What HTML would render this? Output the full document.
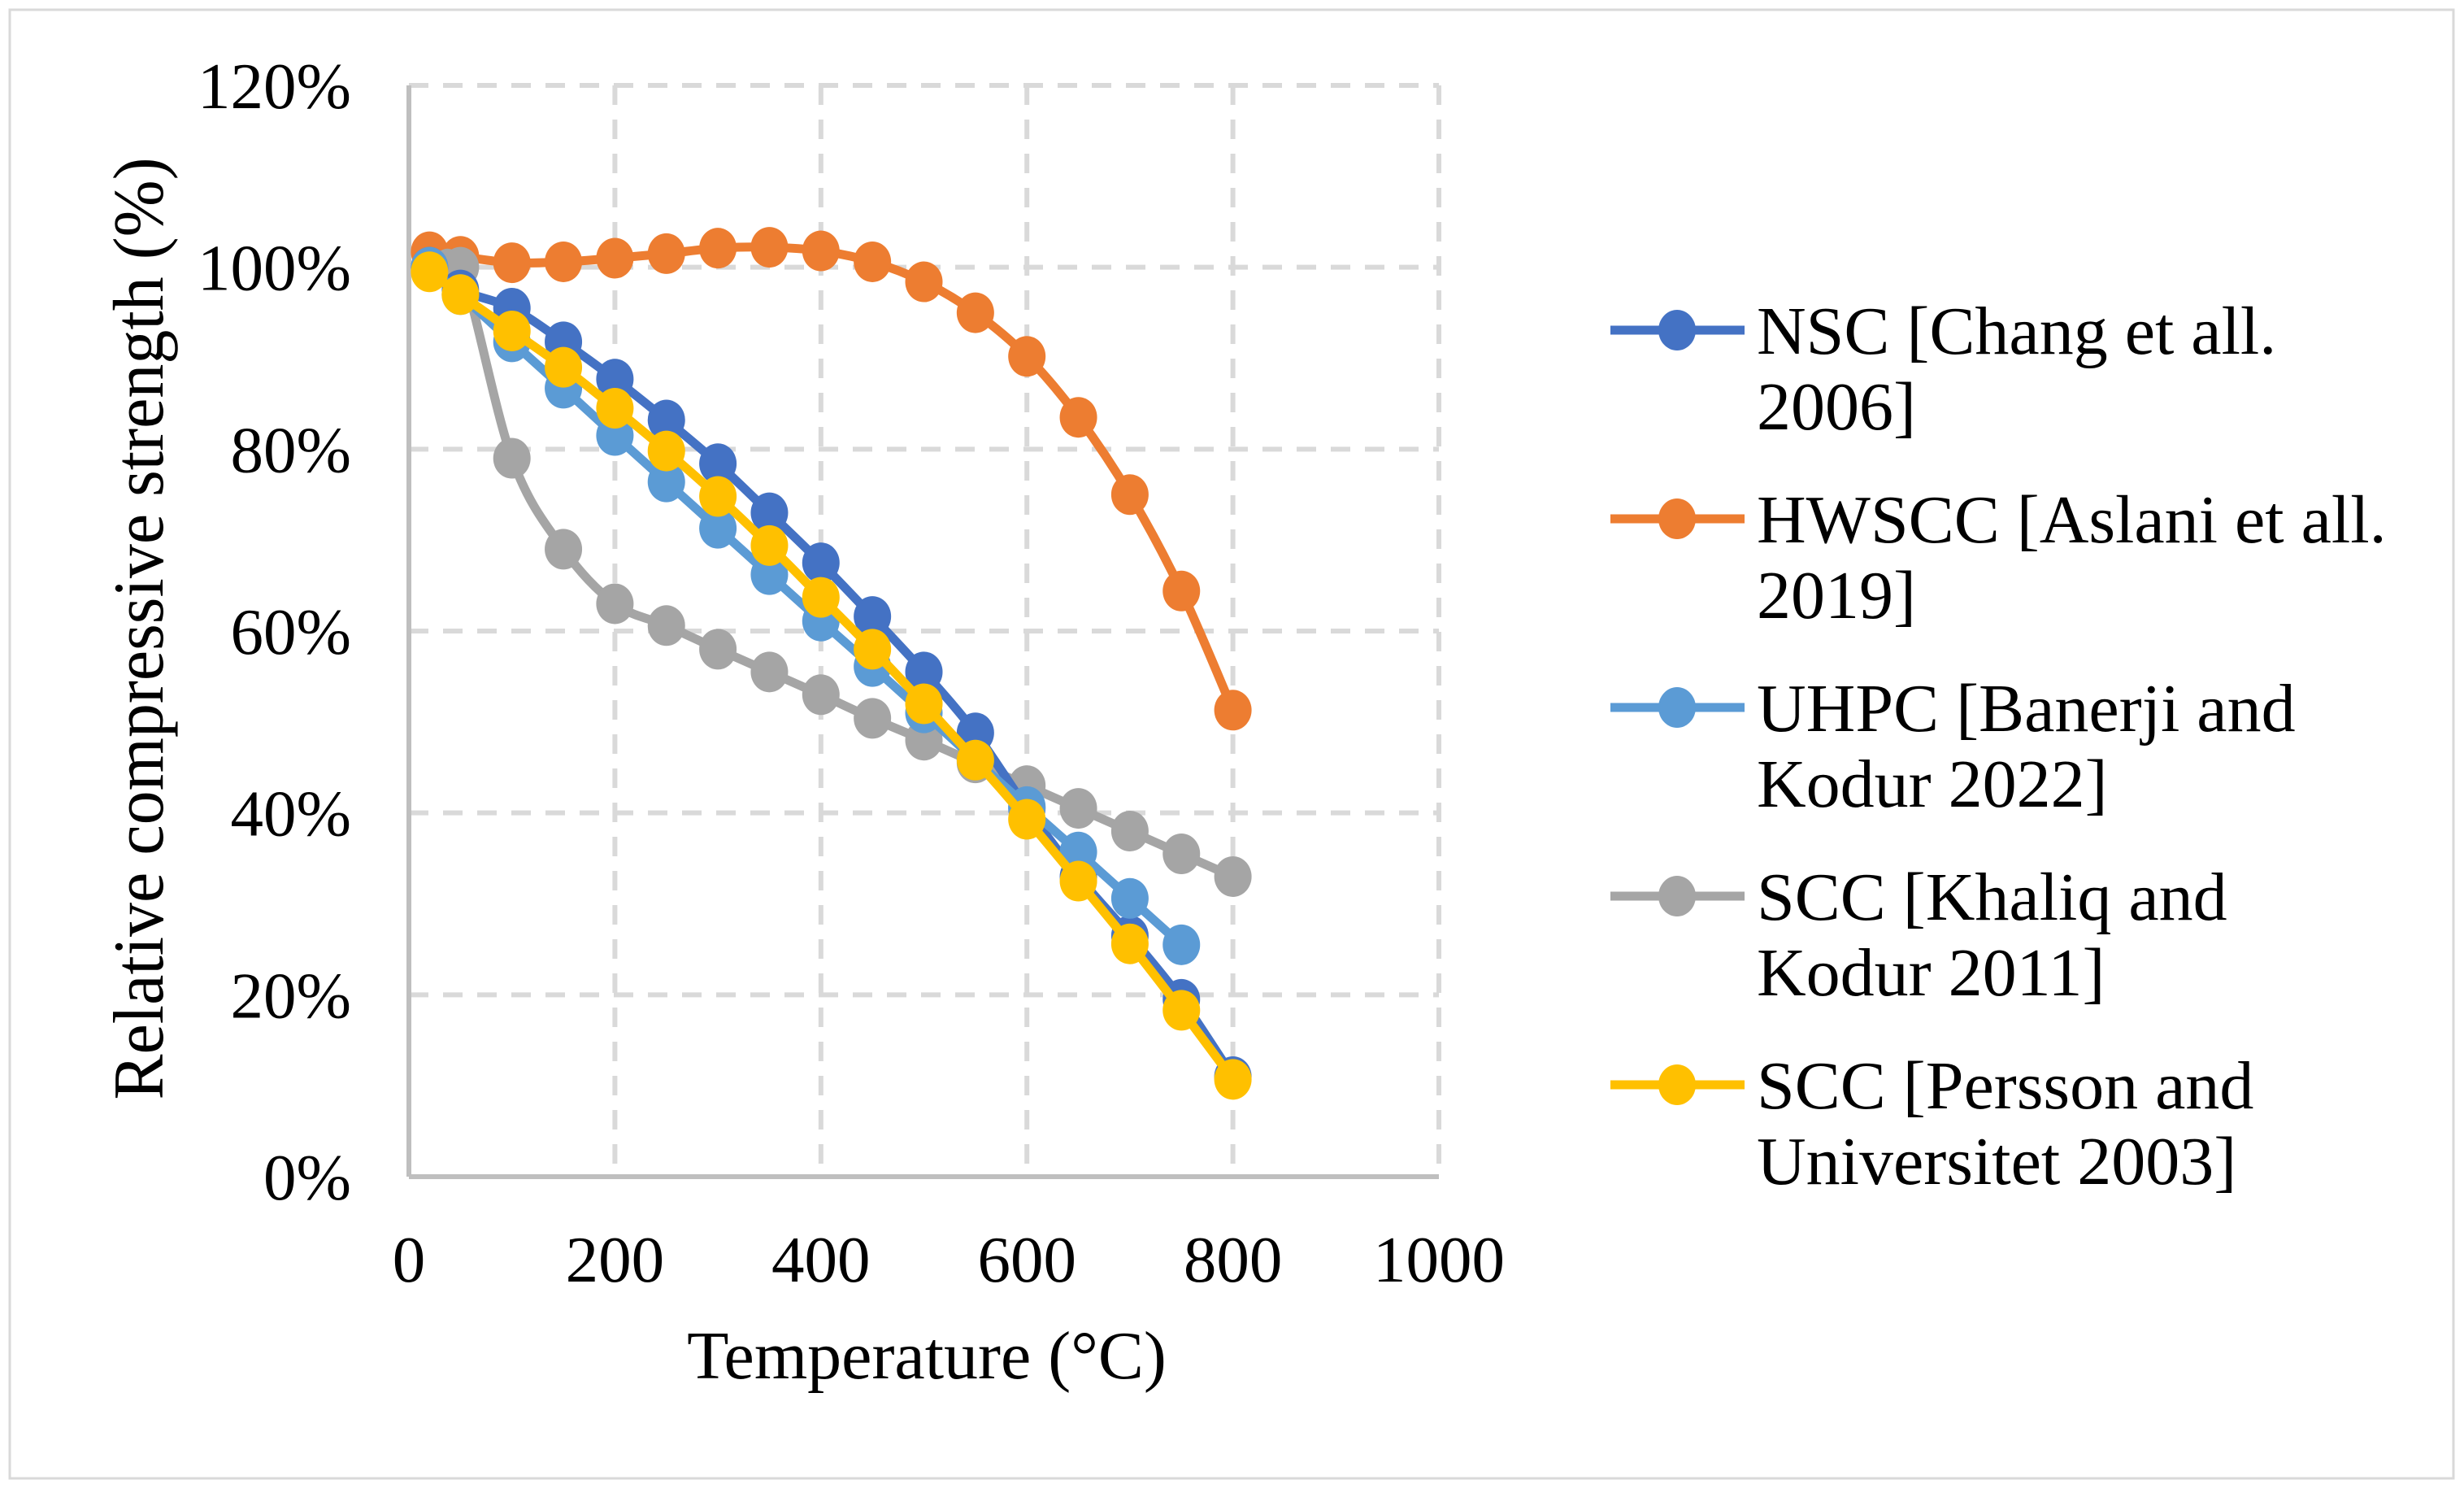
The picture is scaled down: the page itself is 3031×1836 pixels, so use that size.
<!DOCTYPE html>
<html><head><meta charset="utf-8"><style>
html,body{margin:0;padding:0;background:#fff}
svg{display:block}
text{font-family:"Liberation Serif",serif;fill:#000}
</style></head><body>
<svg id="chart" width="3031" height="1836" viewBox="0 0 3031 1836" xmlns="http://www.w3.org/2000/svg">
<rect x="12" y="12" width="3006" height="1806" fill="#fff" stroke="#d9d9d9" stroke-width="3"/>
<g id="grid"></g>
<g id="axes"></g>
<g id="series"></g>
<g id="legend"></g>
<text transform="translate(200,773) rotate(-90) scale(1,1.05)" text-anchor="middle" font-size="84">Relative compressive strength (%)</text>
<text x="1140" y="1695" text-anchor="middle" font-size="84">Temperature (°C)</text>
</svg>
<script>
const temps = [20,50,100,150,200,250,300,350,400,450,500,550,600,650,700,750,800];
const nscValues = [100,97.5,95.5,91.8,87.7,83.2,78.4,73,67.5,61.6,55.5,48.8,40.5,33,26.5,19.5,11];
const hwsccValues = [101.7,101.2,100.5,100.6,101,101.5,102.1,102.2,101.8,100.6,98.4,95,90.2,83.5,75,64.4,51.3];
const uhpcValues = [100,97,91.8,86.7,81.5,76.4,71.3,66.2,61.1,56.1,51,45.8,40.7,35.7,30.6,25.5];
const khaliqValues = [100,100,79,69,63,60.6,58,55.5,53,50.4,48,45.5,43,40.5,38,35.5,33];
const perssonValues = [99.5,97,93,89,84.5,79.8,74.8,69.4,63.7,58,52,45.8,39.3,32.5,25.6,18.3,10.7];
const xTicks = [0,200,400,600,800,1000];
const yTicks = [0,20,40,60,80,100,120];
const seriesNames = ["NSC [Chang et all.|2006]","HWSCC [Aslani et all.|2019]","UHPC [Banerji and|Kodur 2022]","SCC [Khaliq and|Kodur 2011]","SCC [Persson and|Universitet 2003]"];
const seriesColors = ["#4472c4","#ed7d31","#5b9bd5","#a5a5a5","#ffc000"];
const seriesData = [nscValues,hwsccValues,uhpcValues,khaliqValues,perssonValues];
const drawOrder = [1,3,0,2,4];

const NS="http://www.w3.org/2000/svg";
const X0=503,X1=1770,Y0=1447,Y1=105;
const xs=v=>X0+(v/1000)*(X1-X0);
const ys=v=>Y0-(v/120)*(Y0-Y1);
function mk(tag,attrs,parent){const e=document.createElementNS(NS,tag);for(const k in attrs)e.setAttribute(k,attrs[k]);parent.appendChild(e);return e;}
const grid=document.getElementById('grid'),axes=document.getElementById('axes'),ser=document.getElementById('series'),leg=document.getElementById('legend');

yTicks.forEach(t=>{
  if(t>0){const l=mk('line',{x1:X0,x2:X1,y1:ys(t),y2:ys(t),stroke:'#d9d9d9','stroke-width':6,'stroke-dasharray':'24,18'},grid);
  
  }
  const tx=mk('text',{x:432,y:ys(t)+28,'text-anchor':'end','font-size':81},axes);
  tx.textContent=t+'%';
  
  
});
xTicks.forEach(t=>{
  if(t>0){const l=mk('line',{x1:xs(t),x2:xs(t),y1:Y1,y2:Y0,stroke:'#d9d9d9','stroke-width':6,'stroke-dasharray':'24,18'},grid);
  
  }
  const tx=mk('text',{x:xs(t),y:1576,'text-anchor':'middle','font-size':81},axes);
  tx.textContent=t;
  
  
});
const ya=mk('line',{x1:X0,x2:X0,y1:Y1,y2:Y0,stroke:'#bfbfbf','stroke-width':6},axes);


const xa=mk('line',{x1:X0,x2:X1,y1:Y0,y2:Y0,stroke:'#bfbfbf','stroke-width':6},axes);



function smooth(pts){
  let d=`M${pts[0][0]},${pts[0][1]}`;
  for(let i=0;i<pts.length-1;i++){
    const p0=pts[i-1]||pts[i],p1=pts[i],p2=pts[i+1],p3=pts[i+2]||p2;
    const c1=[p1[0]+(p2[0]-p0[0])/6,p1[1]+(p2[1]-p0[1])/6];
    const c2=[p2[0]-(p3[0]-p1[0])/6,p2[1]-(p3[1]-p1[1])/6];
    d+=` C${c1[0]},${c1[1]} ${c2[0]},${c2[1]} ${p2[0]},${p2[1]}`;
  }
  return d;
}
drawOrder.forEach(si=>{
  const vals=seriesData[si];
  const g=mk('g',{},ser);
  
  
  const pts=vals.map((v,i)=>[xs(temps[i]),ys(v)]);
  const p=mk('path',{d:smooth(pts),fill:'none',stroke:seriesColors[si],'stroke-width':11,'stroke-linejoin':'round'},g);
  
  
  pts.forEach(pt=>{
    const c=mk('ellipse',{cx:pt[0],cy:pt[1],rx:23,ry:25,fill:seriesColors[si]},g);
    
    
  });
});
seriesNames.forEach((n,i)=>{
  const cy=406+i*232;
  const g=mk('g',{},leg);
  
  
  mk('line',{x1:1981,x2:2146,y1:cy,y2:cy,stroke:seriesColors[i],'stroke-width':11},g);
  mk('ellipse',{cx:2063,cy:cy,rx:23,ry:25,fill:seriesColors[i]},g);
  const parts=n.split('|');
  parts.forEach((s,j)=>{
    const t=mk('text',{x:2161,y:cy+29+j*93,'font-size':84},g);
    t.textContent=s;
  });
});
</script>
</body></html>
